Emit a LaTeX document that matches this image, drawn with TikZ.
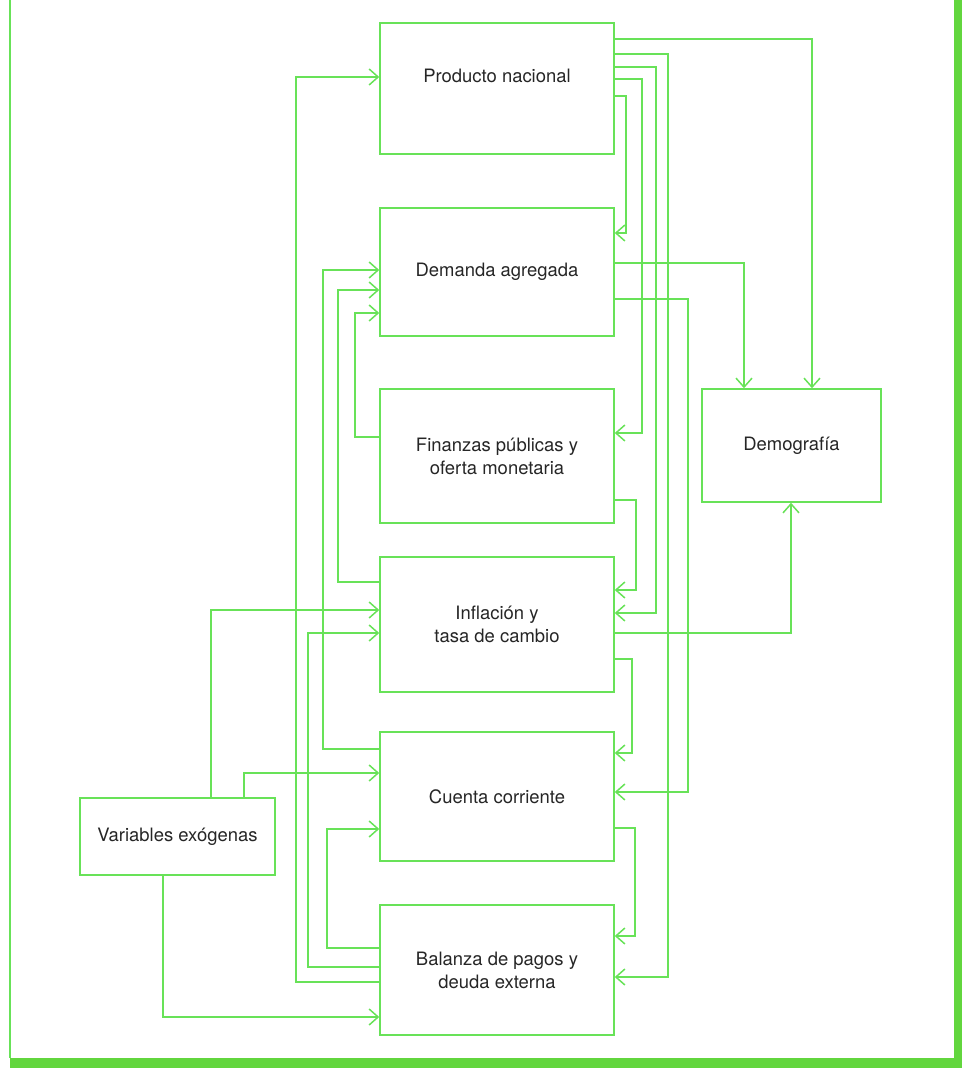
\documentclass[tikz,border=0pt]{standalone}
\usepackage{fontspec}
\setmainfont{TeX Gyre Heros}
\usepackage{xcolor}
\usepackage{tikz}
\usetikzlibrary{arrows.meta}
\definecolor{linegreen}{RGB}{104,226,88}
\definecolor{framegreen}{RGB}{98,214,62}
\definecolor{inkgray}{RGB}{38,38,38}

\begin{document}
\begin{tikzpicture}[
    x=0.2mm, y=-0.2mm,
    block/.style={draw=linegreen, line width=0.3mm, minimum width=46.8mm, align=center, inner sep=0pt, text=inkgray, font=\fontsize{10.5}{13}\selectfont},
    arr/.style={draw=linegreen, line width=0.3mm, -{Straight Barb[length=1.8mm,width=3.2mm]}},
]
    \useasboundingbox (0,0) rectangle (962,1070);

    % Frame
    \fill[framegreen] (10,1058) rectangle (962,1068);
    \fill[framegreen] (954,0) rectangle (962,1068);
    \draw[linegreen, line width=0.4mm] (10,0) -- (10,1058);

    % Main column
    \node[block, minimum height=26.2mm, text depth=14pt] (pn) at (497,88.5) {Producto nacional};
    \node[block, minimum height=25.6mm] (da) at (497,272) {Demanda agregada};
    \node[block, minimum height=26.8mm] (fin) at (497,456) {Finanzas públicas y\\oferta monetaria};
    \node[block, minimum height=27mm] (inf) at (497,624.5) {Inflación y\\tasa de cambio};
    \node[block, minimum height=25.8mm] (cc) at (497,796.5) {Cuenta corriente};
    \node[block, minimum height=26mm] (bal) at (497,970) {Balanza de pagos y\\deuda externa};

    % Side boxes
    \node[block, minimum width=35.8mm, minimum height=22.6mm] (demo) at (791.5,445.5) {Demografía};
    \node[block, minimum width=39mm, minimum height=15.4mm] (ve) at (177.5,836.5) {Variables exógenas};

    % Right side links
    \draw[arr] (pn.east |- 0,39) -| (812,0 |- demo.north);
    \draw[arr] (pn.east |- 0,54) -- (668,54) |- (bal.east |- 0,977);
    \draw[arr] (pn.east |- 0,67) -- (656,67) |- (inf.east |- 0,613);
    \draw[arr] (pn.east |- 0,79) -- (642,79) |- (fin.east |- 0,433);
    \draw[arr] (pn.east |- 0,96) -- (626,96) |- (da.east |- 0,233);
    \draw[arr] (da.east |- 0,263) -| (744,0 |- demo.north);
    \draw[arr] (da.east |- 0,299) -- (688,299) |- (cc.east |- 0,792);
    \draw[arr] (fin.east |- 0,500) -- (636,500) |- (inf.east |- 0,590);
    \draw[arr] (inf.east |- 0,633) -| (791,0 |- demo.south);
    \draw[arr] (inf.east |- 0,659) -- (632,659) |- (cc.east |- 0,753);
    \draw[arr] (cc.east |- 0,828) -- (635,828) |- (bal.east |- 0,936);

    % Left side links
    \draw[arr] (bal.west |- 0,982) -- (296,982) |- (pn.west |- 0,77);
    \draw[arr] (bal.west |- 0,967) -- (308,967) |- (inf.west |- 0,633);
    \draw[arr] (bal.west |- 0,948) -- (327,948) |- (cc.west |- 0,829);
    \draw[arr] (cc.west |- 0,749) -- (323,749) |- (da.west |- 0,270);
    \draw[arr] (inf.west |- 0,582) -- (338,582) |- (da.west |- 0,290);
    \draw[arr] (fin.west |- 0,437) -- (355,437) |- (da.west |- 0,313);

    % Exogenous inputs
    \draw[arr] (211,0 |- ve.north) |- (inf.west |- 0,610);
    \draw[arr] (244,0 |- ve.north) |- (cc.west |- 0,773);
    \draw[arr] (163,0 |- ve.south) |- (bal.west |- 0,1017);
\end{tikzpicture}
\end{document}
